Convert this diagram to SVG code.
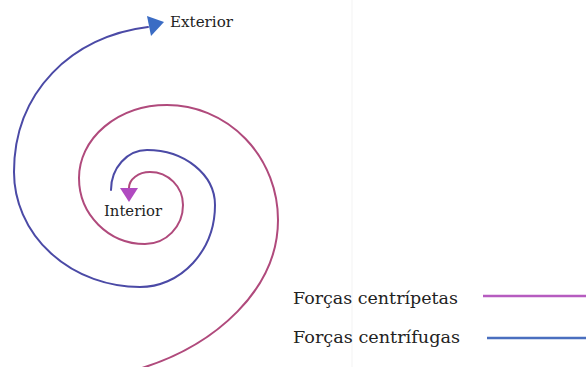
<svg xmlns="http://www.w3.org/2000/svg" width="586" height="367" viewBox="0 0 586 367">
  <style>
    .lbl { font-family: "DejaVu Serif", "Liberation Serif", serif; fill: #222222; }
    .sp { fill: none; stroke-width: 2; stroke-linecap: round; }
    .blue { stroke: #4b4aa6; }
    .pink { stroke: #b04a7c; }
  </style>
  <rect width="586" height="367" fill="#ffffff"/>
  <line x1="352" y1="0" x2="352" y2="367" stroke="#f3f3f3" stroke-width="1"/>
  <g id="connectors">
    <path class="sp blue" d="M111,190 A36,40 0 0 1 147,150 A68,55 0 0 1 215,205 A75,82 0 0 1 140,287 A126,115 0 0 1 14,172 C14,92 72,36 148,27"/>
    <polygon points="147,16 164,22 151,36" fill="#3b6cc4"/>
    <path class="sp pink" d="M142,368 C215,345 278,290 278,220 A111,115 0 0 0 167,105 A88,73 0 0 0 79,178 A66,66 0 0 0 145,244 A38,39 0 0 0 183,205 A33,33 0 0 0 150,172 A21,16 0 0 0 129,188"/>
    <polygon points="120,188 138,188 129,202" fill="#b04ac0"/>
  </g>
  <g id="exterior">
    <text class="lbl" x="170" y="27" font-size="14" textLength="63" lengthAdjust="spacingAndGlyphs">Exterior</text>
  </g>
  <g id="interior">
    <text class="lbl" x="104" y="216" font-size="14" textLength="58" lengthAdjust="spacingAndGlyphs">Interior</text>
  </g>
  <g id="legend-centripetas">
    <text class="lbl" x="293" y="304" font-size="16.5" textLength="165" lengthAdjust="spacingAndGlyphs">Forças centrípetas</text>
    <line x1="483" y1="296" x2="586" y2="296" stroke="#b65cc0" stroke-width="2.5"/>
  </g>
  <g id="legend-centrifugas">
    <text class="lbl" x="293" y="343" font-size="16.5" textLength="167" lengthAdjust="spacingAndGlyphs">Forças centrífugas</text>
    <line x1="487" y1="338" x2="586" y2="338" stroke="#4a6fbf" stroke-width="2.5"/>
  </g>
</svg>
